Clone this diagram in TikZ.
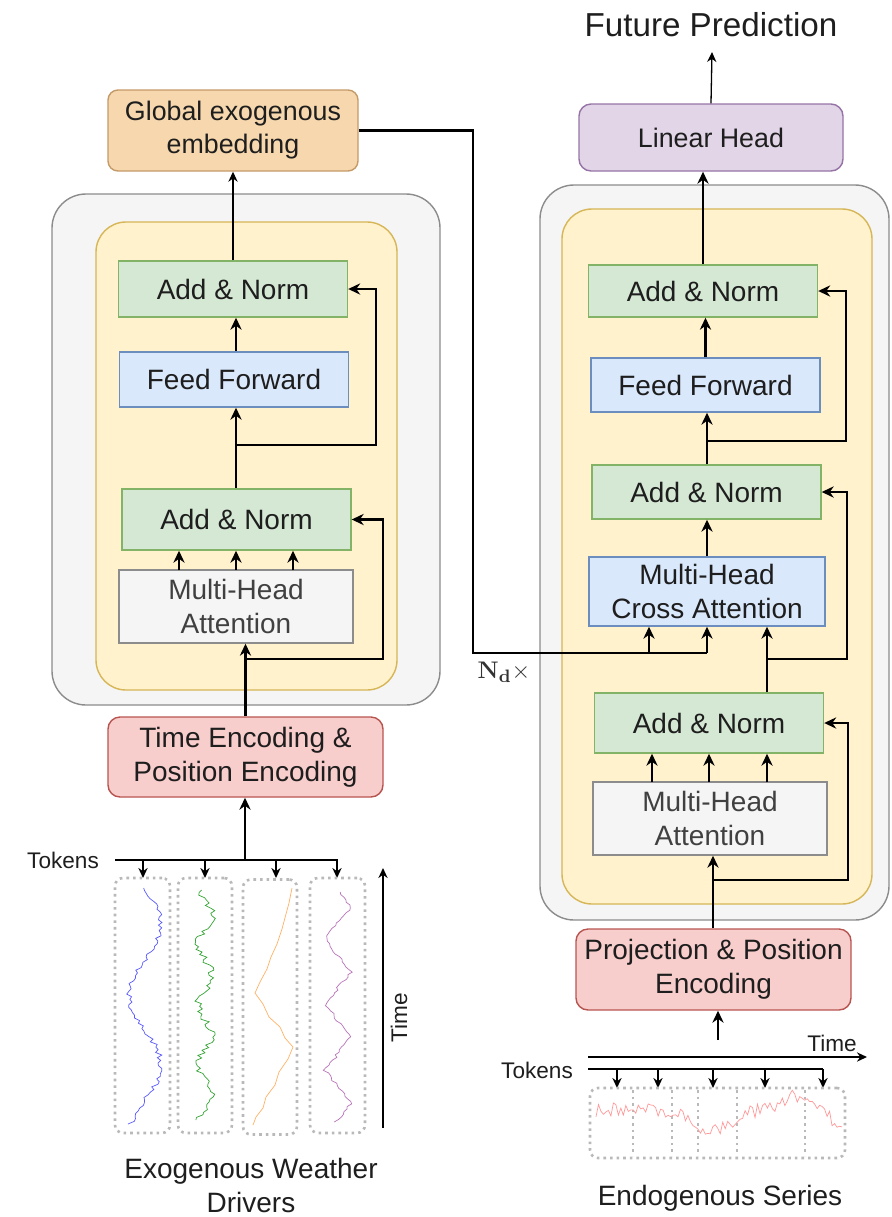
\documentclass[tikz,border=0pt]{standalone}
\usepackage[no-math]{fontspec}
\setmainfont{Liberation Sans}
\usetikzlibrary{arrows.meta, positioning}
\definecolor{grnF}{HTML}{D5E8D4}\definecolor{grnD}{HTML}{82B366}
\definecolor{bluF}{HTML}{DAE8FC}\definecolor{bluD}{HTML}{6C8EBF}
\definecolor{redF}{HTML}{F8CECC}\definecolor{redD}{HTML}{B85450}
\definecolor{purF}{HTML}{E1D5E7}\definecolor{purD}{HTML}{9673A6}
\definecolor{ylwF}{HTML}{FFF2CC}\definecolor{ylwD}{HTML}{D6B656}
\definecolor{gryF}{HTML}{F5F5F5}\definecolor{gryD}{HTML}{8C8C8C}
\definecolor{orgF}{HTML}{F7D8AE}\definecolor{orgD}{HTML}{C49A68}
\definecolor{txt}{HTML}{1E1E1E}
\newcommand{\blkfont}{\fontsize{14}{17}\selectfont}
\newcommand{\smlfont}{\fontsize{11.3}{13}\selectfont}

\begin{document}
\begin{tikzpicture}[x=0.5pt, y=-0.5pt, text=txt,
  blk/.style={draw, line width=0.7pt, align=center, font=\blkfont, inner sep=0pt},
  anbox/.style={blk, fill=grnF, draw=grnD, minimum width=114.5pt, minimum height=28pt},
  ffbox/.style={blk, fill=bluF, draw=bluD, minimum width=114.5pt, minimum height=27.5pt},
  mhabox/.style={blk, fill=gryF, draw=gryD, minimum width=117pt, minimum height=36.5pt, text=black!75},
  encbox/.style={blk, fill=redF, draw=redD, rounded corners=6pt, minimum width=137.5pt, minimum height=40.5pt},
  outerbox/.style={draw=gryD, fill=gryF, line width=0.7pt, rounded corners=17pt},
  innerbox/.style={draw=ylwD, fill=ylwF, line width=0.7pt, rounded corners=15pt},
  tokbox/.style={draw=gray!55, line width=1.3pt, dash pattern=on 1.3pt off 2pt, rounded corners=4pt},
  arr/.style={-{Stealth[length=6pt,width=5.6pt]}, line width=1.2pt},
  thinarr/.style={-{Stealth[length=5pt,width=4.6pt]}, line width=0.65pt},
  ln/.style={line width=1.2pt},
  ser/.style={line width=0.35pt}
]
  \useasboundingbox (0,0) rectangle (891,1217);

  % exogenous encoder (left)
  \node[outerbox, minimum width=194pt, minimum height=255.5pt] (encL) at (246,449.5) {};
  \node[innerbox, minimum width=150.5pt, minimum height=234pt] (layL) at (246.5,456) {};
  \node[blk, fill=orgF, draw=orgD, rounded corners=5pt, minimum width=125pt, minimum height=40.5pt,
        font=\fontsize{13.4}{16.5}\selectfont] (gemb) at (233,130.5) {Global exogenous\\embedding};
  \node[anbox]  (anL2) at (233,289)   {Add \& Norm};
  \node[ffbox]  (ffL)  at (234,379.5) {Feed Forward};
  \node[anbox, minimum height=30.5pt] (anL1) at (236.5,519.5) {Add \& Norm};
  \node[mhabox] (mhaL) at (236,606.5) {Multi-Head\\Attention};
  \node[encbox, minimum height=40pt] (tpe) at (245.5,757) {Time Encoding \&\\Position Encoding};

  \coordinate (rsL1) at (246,659);  \coordinate (cL1) at (383,659);
  \coordinate (rsL2) at (236,445);  \coordinate (cL2) at (376,445);
  \foreach \xa in {179,236,293}
    \draw[arr] (\xa,570) -- (\xa,570 |- anL1.south);
  \draw[arr] (tpe.north) -- (tpe.north |- mhaL.south);
  \draw[arr] (rsL1) -- (cL1) |- (anL1.east);
  \draw[arr] (rsL2 |- anL1.north) -- (rsL2 |- ffL.south);
  \draw[arr] (rsL2) -- (cL2) |- (anL2.east);
  \draw[arr] (ffL.north -| rsL2) -- (rsL2 |- anL2.south);
  \draw[thinarr] (anL2.north) -- (anL2.north |- gemb.south);

  % weather drivers
  \node[font=\smlfont] (tokL) at (63,860) {Tokens};
  \coordinate (tkL0) at (115,860); \coordinate (tkL1) at (338,860);
  \coordinate (tkLm) at (245,860);
  \draw[line width=0.9pt] (tkL0) -- (tkL1);
  \foreach \xa in {143,205,276,337}
    \draw[thinarr, line width=0.8pt] (\xa,860) -- (\xa,878);
  \draw[arr] (tkLm) -- (tkLm |- tpe.south);
  \node[tokbox, minimum width=27.5pt, minimum height=127.5pt] (drv1) at (142.5,1005.5) {};
  \node[tokbox, minimum width=27pt,   minimum height=127.5pt] (drv2) at (205,1005.5) {};
  \node[tokbox, minimum width=27pt,   minimum height=127.5pt] (drv3) at (270,1007) {};
  \node[tokbox, minimum width=27.5pt, minimum height=127.5pt] (drv4) at (337.5,1005.5) {};
  \pgfmathsetseed{11}
  \draw[ser, color=blue!65] plot[domain=888:1124, samples=90] ({145+16*cos((\x-925)*2.57)+3*rand}, \x);
  \draw[ser, color=green!55!black!80] plot[domain=890:1120, samples=90] ({205+7*sin(\x*6)+4*rand}, \x);
  \draw[ser, color=orange!60] plot coordinates {(292,888) (289,903) (286,914) (282,929) (277,944) (271,957)
        (267,969) (260,982) (255,993) (263,1004) (269,1017) (280,1027) (285,1038) (293,1047) (288,1059)
        (279,1072) (275,1085) (266,1097) (263,1108) (256,1117) (253,1125)};
  \draw[ser, color=violet!55] plot[domain=892:1122, samples=90] ({338+13*asin(sin((\x-890)*5.5))/90+2*rand}, \x);
  \coordinate (tmL0) at (383,1128); \coordinate (tmL1) at (383,868);
  \draw[thinarr] (tmL0) -- (tmL1);
  \node[font=\smlfont, rotate=90] (timeL) at (399,1018) {Time};
  \node[font=\blkfont, align=center] (capL) at (251,1185) {Exogenous Weather\\Drivers};

  % decoder (right)
  \node[outerbox, minimum width=174.5pt, minimum height=367.5pt] (decR) at (714.5,552.5) {};
  \node[innerbox, minimum width=155pt, minimum height=347.5pt] (layR) at (717,556.5) {};
  \node[blk, fill=purF, draw=purD, rounded corners=6pt, minimum width=132pt, minimum height=33.5pt,
        font=\fontsize{13.4}{16}\selectfont] (lin) at (711,137.5) {Linear Head};
  \node[font=\fontsize{16.6}{19}\selectfont] (fpred) at (711,25) {Future Prediction};
  \node[anbox, minimum height=26pt] (anR3) at (703,291) {Add \& Norm};
  \node[ffbox, minimum height=27pt] (ffR)  at (705.5,385) {Feed Forward};
  \node[anbox, minimum height=27pt] (anR2) at (706.5,492) {Add \& Norm};
  \node[blk, fill=bluF, draw=bluD, minimum width=118pt, minimum height=34.5pt] (mhca) at (707,591.5) {Multi-Head\\Cross Attention};
  \node[anbox, minimum height=30pt] (anR1) at (709,723) {Add \& Norm};
  \node[mhabox] (mhaR) at (710,818.5) {Multi-Head\\Attention};
  \node[encbox] (ppe) at (713.5,969.5) {Projection \& Position\\Encoding};
  \node[font=\fontsize{13}{15}\selectfont, text=black!80] (nd) at (504,672) {$\mathbf{N_d}\times$};

  \coordinate (rsR1) at (713,880); \coordinate (cR1) at (848,880);
  \coordinate (rsR2) at (767,659); \coordinate (cR2) at (847,659);
  \coordinate (rsR3) at (707,441); \coordinate (cR3) at (846,441);
  \coordinate (fp) at (712,52);
  \foreach \xa in {652,709,767}
    \draw[arr] (\xa,782) -- (\xa,782 |- anR1.south);
  \draw[arr] (rsR1 |- ppe.north) -- (rsR1 |- mhaR.south);
  \draw[arr] (rsR1) -- (cR1) |- (anR1.east);
  \draw[arr] (rsR2 |- anR1.north) -- (rsR2 |- mhca.south);
  \draw[arr] (rsR2) -- (cR2) |- (anR2.east);
  \draw[arr] (mhca.north) -- (mhca.north |- anR2.south);
  \draw[arr] (rsR3 |- anR2.north) -- (rsR3 |- ffR.south);
  \draw[arr] (rsR3) -- (cR3) |- (anR3.east);
  \draw[arr] (ffR.north) -- (ffR.north |- anR3.south);
  \draw[arr] (anR3.north) -- (anR3.north |- lin.south);
  \draw[thinarr] (lin.north) -- (fp);

  % global embedding into cross attention
  \coordinate (kv0) at (473,653); \coordinate (kv1) at (649,653); \coordinate (kv2) at (707,653);
  \draw[ln] (gemb.east) -| (kv0) -- (kv2);
  \draw[arr] (kv1) -- (kv1 |- mhca.south);
  \draw[arr] (kv2) -- (kv2 |- mhca.south);

  % endogenous series
  \coordinate (ppin) at (718,1040);
  \draw[arr] (ppin) -- (ppin |- ppe.south);
  \coordinate (tmR0) at (588,1057); \coordinate (tmR1) at (867,1057);
  \draw[thinarr, line width=0.9pt] (tmR0) -- (tmR1);
  \node[font=\smlfont] (timeR) at (832,1043) {Time};
  \node[font=\smlfont] (tokR) at (537,1070) {Tokens};
  \coordinate (tkR0) at (588,1069); \coordinate (tkR1) at (823,1069);
  \draw[line width=0.9pt] (tkR0) -- (tkR1);
  \foreach \xa in {617,658,713,765,823}
    \draw[thinarr, line width=0.8pt] (\xa,1069) -- (\xa,1088);
  \node[tokbox, minimum width=127.5pt, minimum height=35pt] (endo) at (717.5,1123) {};
  \foreach \xa in {633,672,698,737,805}
    \draw[tokbox] (\xa,1090) -- (\xa,1156);
  \draw[ser, color=red!40] plot[domain=596:842, samples=100]
    ({\x}, {1110+22*exp(-((\x-712)/24)^2)-14*exp(-((\x-795)/18)^2)+18*exp(-((\x-840)/12)^2)+7*rand});
  \node[font=\blkfont] (capR) at (720,1198) {Endogenous Series};
\end{tikzpicture}
\end{document}
